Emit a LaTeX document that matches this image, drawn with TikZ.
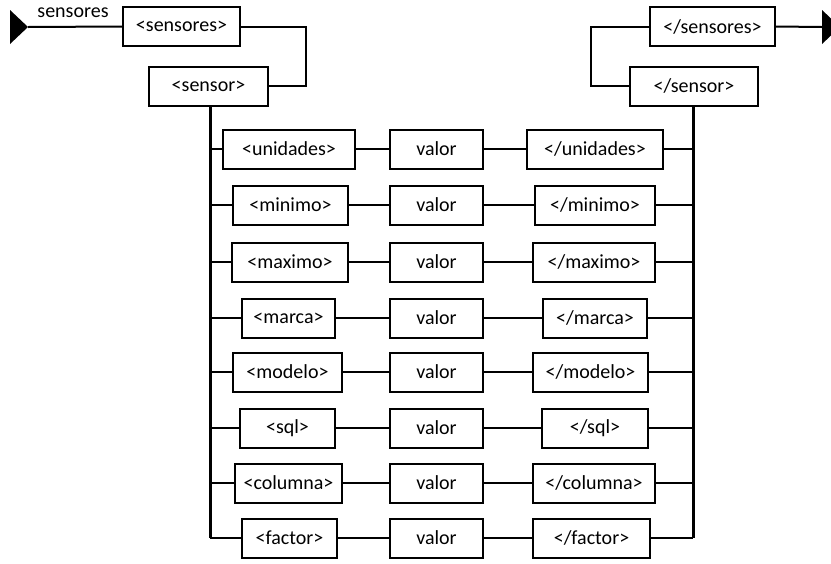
\documentclass[tikz,border=0pt]{standalone}
\usepackage{fontspec}
\setmainfont{Carlito}
\begin{document}
\begin{tikzpicture}[x=1pt,y=-1pt,
  tagfont/.style={font=\fontsize{20}{24}\selectfont},
  tag/.style={draw,line width=2pt,minimum height=39pt,inner sep=0pt,tagfont},
  wire/.style={line width=2pt},
  trunk/.style={line width=3pt},
  endmark/.style={fill=black}]
\useasboundingbox (0,0) rectangle (831,563);

% entry and exit markers
\fill[endmark] (10,10) -- (28,27) -- (10,44) -- cycle;
\coordinate (inend) at (28,27);
\begin{scope}
\clip (0,0) rectangle (831,563);
\fill[endmark] (822,10) -- (840,27) -- (822,44) -- cycle;
\end{scope}
\coordinate (outend) at (822,27);
\node[tagfont,anchor=base,inner sep=0pt] (lbl) at (73,17) {sensores};

% top-level tags
\node[tag,minimum width=117pt] (so) at (181.5,26.5) {<sensores>};
\node[tag,minimum width=119pt] (s)  at (208.5,86) {<sensor>};
\node[tag,minimum width=125pt] (sc) at (712.5,26.5) {</sensores>};
\node[tag,minimum width=128pt] (ssc) at (694,86) {</sensor>};

\draw[wire] (inend) -- (so.west);
\draw[wire] (so.east) -- (306,26.5) |- (s.east);
\draw[wire] (sc.east) -- (outend);
\draw[wire] (sc.west) -- (591,26.5) |- (ssc.west);

% trunk lines
\coordinate (ltop) at (210,106);
\coordinate (rtop) at (693,106);
\coordinate (lbot) at (210,538);
\coordinate (rbot) at (693,538);
\draw[trunk] (ltop) -- (lbot);
\draw[trunk] (rtop) -- (rbot);

% child elements: name / y / open left / open right / close left / close right
\foreach \nm/\yy/\opa/\opb/\cla/\clb in {
  unidades/149/223/355/527/663,
  minimo/205/233/348/535/655,
  maximo/262/232/348/533/655,
  marca/318/242/335/543/647,
  modelo/372/233/342/533/648,
  sql/428/240/335/542/648,
  columna/483/235/342/533/655,
  factor/538/242/337/533/650}{
  \pgfmathsetmacro{\ow}{\opb-\opa}
  \pgfmathsetmacro{\ox}{(\opb+\opa)/2}
  \pgfmathsetmacro{\cw}{\clb-\cla}
  \pgfmathsetmacro{\cx}{(\clb+\cla)/2}
  \coordinate (l-\nm) at (210,\yy);
  \coordinate (r-\nm) at (693,\yy);
  \node[tag,minimum width=\ow pt] (o-\nm) at (\ox,\yy) {<\nm>};
  \node[tag,minimum width=93pt] (v-\nm) at (436.5,\yy) {valor};
  \node[tag,minimum width=\cw pt] (c-\nm) at (\cx,\yy) {</\nm>};
  \draw[wire] (l-\nm) -- (o-\nm.west);
  \draw[wire] (o-\nm) -- (v-\nm);
  \draw[wire] (v-\nm) -- (c-\nm);
  \draw[wire] (c-\nm.east) -- (r-\nm);
}
\end{tikzpicture}
\end{document}
